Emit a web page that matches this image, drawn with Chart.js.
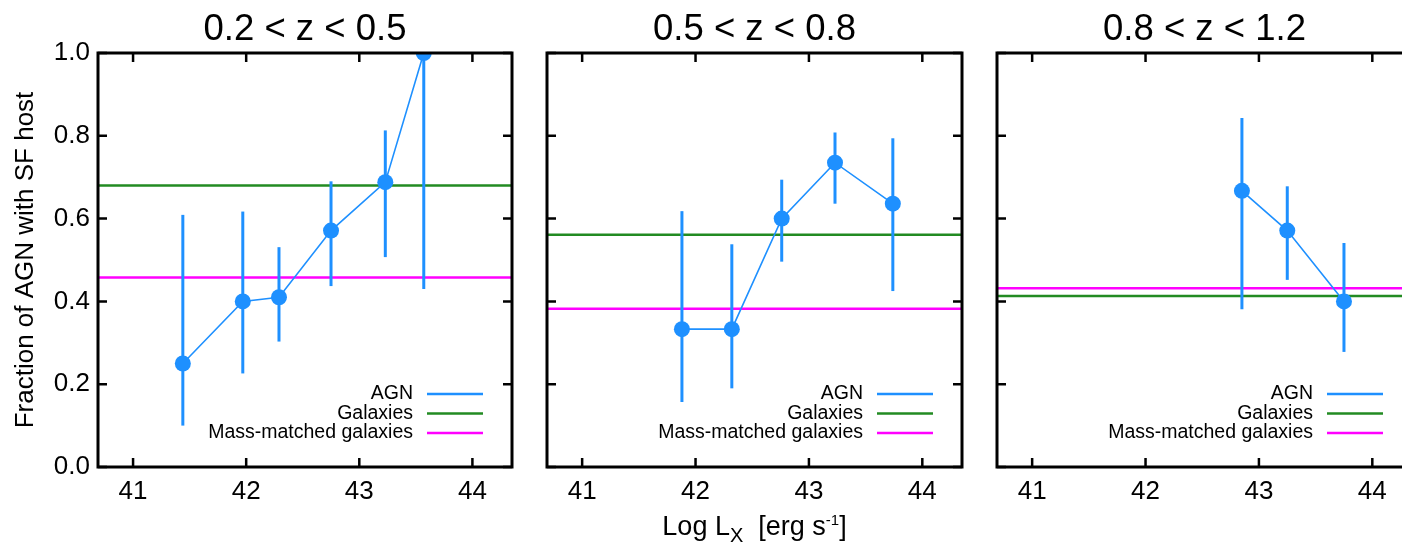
<!DOCTYPE html>
<html>
<head>
<meta charset="utf-8">
<script src="https://cdn.jsdelivr.net/npm/chart.js@4.4.0/dist/chart.umd.min.js"></script>
<style>
    html, body { margin: 0; padding: 0; background: #fff; overflow: hidden; width: 1402px; height: 544px; }
    .panel { position: absolute; top: 0; height: 510px; }
    .ptitle { position: absolute; top: 9px; height: 38px; line-height: 38px; text-align: center;
              font-family: "Liberation Sans", Arial, sans-serif; font-size: 36.5px; color: #000; white-space: nowrap; }
    #xtitle { position: absolute; top: 509px; left: 547px; width: 415px; text-align: center;
              font-family: "Liberation Sans", Arial, sans-serif; font-size: 27px; line-height: 34px; color: #000; white-space: nowrap; }
    #xtitle sub { font-size: 20px; vertical-align: -7px; line-height: 0; }
    #xtitle sup { font-size: 15px; vertical-align: 10px; line-height: 0; }
</style>
</head>
<body>
<div class="panel" style="left:0px;width:520px"><canvas id="panel0"></canvas></div>
<div class="panel" style="left:520px;width:450px"><canvas id="panel1"></canvas></div>
<div class="panel" style="left:970px;width:450px"><canvas id="panel2"></canvas></div>
<div class="ptitle" style="left:98px;width:414px">0.2 &lt; z &lt; 0.5</div>
<div class="ptitle" style="left:547px;width:415px">0.5 &lt; z &lt; 0.8</div>
<div class="ptitle" style="left:997px;width:415px">0.8 &lt; z &lt; 1.2</div>
<div id="xtitle">Log L<sub>X</sub>&nbsp; [erg s<sup>-1</sup>]</div>

<script>
// tick values and series names
var xTicks = [41, 42, 43, 44];
var yTicks = [0.0, 0.2, 0.4, 0.6, 0.8, 1.0];
var xMin = 40.69;
var xMax = 44.35;
var seriesNames = ["AGN", "Galaxies", "Mass-matched galaxies"];
var yTitle = "Fraction of AGN with SF host";

// 0.2 < z < 0.5
var agnX1 = [41.44, 41.97, 42.29, 42.75, 43.23, 43.57];
var agnY1 = [0.25, 0.40, 0.41, 0.571, 0.688, 1.00];
var agnLo1 = [0.10, 0.226, 0.303, 0.437, 0.507, 0.43];
var agnHi1 = [0.609, 0.617, 0.531, 0.69, 0.813, 1.00];
var galaxies1 = 0.68;
var massMatched1 = 0.458;

// 0.5 < z < 0.8
var agnX2 = [41.88, 42.32, 42.76, 43.23, 43.74];
var agnY2 = [0.333, 0.333, 0.60, 0.735, 0.636];
var agnLo2 = [0.157, 0.19, 0.496, 0.636, 0.425];
var agnHi2 = [0.618, 0.538, 0.694, 0.808, 0.794];
var galaxies2 = 0.561;
var massMatched2 = 0.382;

// 0.8 < z < 1.2
var agnX3 = [42.85, 43.25, 43.75];
var agnY3 = [0.667, 0.571, 0.40];
var agnLo3 = [0.381, 0.452, 0.278];
var agnHi3 = [0.843, 0.678, 0.541];
var galaxies3 = 0.413;
var massMatched3 = 0.432;

var agnColor = "rgb(30, 144, 255)";
var galColor = "rgb(34, 139, 34)";
var massColor = "rgb(255, 0, 255)";
var fontFamily = '"Liberation Sans", Arial, sans-serif';

Chart.defaults.font.family = fontFamily;
Chart.defaults.color = "#000";

// error bars, frame with inward ticks, and the in-plot legend
var idlPlugin = {
    id: "idlStyle",
    beforeDatasetDraw: function (chart, args) {
        if (args.index !== 0) return;
        var ds = chart.data.datasets[0];
        var xs = chart.scales.x, ys = chart.scales.y;
        var ctx = chart.ctx;
        ctx.save();
        ctx.strokeStyle = ds.borderColor;
        ctx.lineWidth = 3;
        ds.data.forEach(function (p, i) {
            var px = xs.getPixelForValue(p.x);
            ctx.beginPath();
            ctx.moveTo(px, ys.getPixelForValue(ds.errLo[i]));
            ctx.lineTo(px, ys.getPixelForValue(ds.errHi[i]));
            ctx.stroke();
        });
        ctx.restore();
    },
    afterDraw: function (chart) {
        var ctx = chart.ctx, a = chart.chartArea;
        var xs = chart.scales.x, ys = chart.scales.y;
        var tl = 9;
        ctx.save();
        ctx.strokeStyle = "#000";
        ctx.lineWidth = 2.5;
        xTicks.forEach(function (v) {
            var px = xs.getPixelForValue(v);
            ctx.beginPath();
            ctx.moveTo(px, a.bottom); ctx.lineTo(px, a.bottom - tl);
            ctx.moveTo(px, a.top); ctx.lineTo(px, a.top + tl);
            ctx.stroke();
        });
        yTicks.forEach(function (v) {
            var py = ys.getPixelForValue(v);
            ctx.beginPath();
            ctx.moveTo(a.left, py); ctx.lineTo(a.left + tl, py);
            ctx.moveTo(a.right, py); ctx.lineTo(a.right - tl, py);
            ctx.stroke();
        });
        ctx.lineWidth = 3;
        ctx.strokeRect(a.left, a.top, a.right - a.left, a.bottom - a.top);

        ctx.font = "19.5px " + fontFamily;
        ctx.textAlign = "right";
        ctx.textBaseline = "middle";
        chart.data.datasets.forEach(function (ds, i) {
            var y = a.bottom - 73 + i * 19.5;
            ctx.fillStyle = "#000";
            ctx.fillText(ds.label, a.right - 99, y);
            ctx.strokeStyle = ds.borderColor;
            ctx.lineWidth = 2.5;
            ctx.beginPath();
            ctx.moveTo(a.right - 85, y);
            ctx.lineTo(a.right - 29, y);
            ctx.stroke();
        });
        ctx.restore();
    }
};

function MakePanel(canvasId, xs, ys, lo, hi, gal, mass, yWidth, showY) {
    var agnData = xs.map(function (x, i) { return { x: x, y: ys[i] }; });
    var ctx = document.getElementById(canvasId).getContext("2d");
    new Chart(ctx, {
        type: "line",
        data: {
            datasets: [
                {
                    label: seriesNames[0],
                    data: agnData,
                    errLo: lo,
                    errHi: hi,
                    borderColor: agnColor,
                    backgroundColor: agnColor,
                    borderWidth: 1.6,
                    pointRadius: 8,
                    pointHoverRadius: 8,
                    pointBorderWidth: 0
                },
                {
                    label: seriesNames[1],
                    data: [{ x: xMin, y: gal }, { x: xMax, y: gal }],
                    borderColor: galColor,
                    borderWidth: 2.5,
                    pointRadius: 0
                },
                {
                    label: seriesNames[2],
                    data: [{ x: xMin, y: mass }, { x: xMax, y: mass }],
                    borderColor: massColor,
                    borderWidth: 2.5,
                    pointRadius: 0
                }
            ]
        },
        options: {
            responsive: true,
            maintainAspectRatio: false,
            animation: false,
            events: [],
            layout: { padding: { top: 53, right: 8, left: 0, bottom: 0 } },
            plugins: { legend: { display: false }, tooltip: { enabled: false } },
            scales: {
                x: {
                    type: "linear",
                    min: xMin,
                    max: xMax,
                    offset: false,
                    grid: { display: false, drawTicks: false },
                    border: { display: false },
                    afterBuildTicks: function (s) { s.ticks = xTicks.map(function (v) { return { value: v }; }); },
                    afterFit: function (s) { s.height = 43; },
                    ticks: { font: { size: 26 }, color: "#000", padding: 9, maxRotation: 0,
                             callback: function (v) { return String(v); } }
                },
                y: {
                    type: "linear",
                    min: 0,
                    max: 1,
                    grid: { display: false, drawTicks: false },
                    border: { display: false },
                    afterBuildTicks: function (s) { s.ticks = yTicks.map(function (v) { return { value: v }; }); },
                    afterFit: function (s) { s.width = yWidth; },
                    ticks: { display: showY, font: { size: 26 }, color: "#000", padding: 8,
                             callback: function (v) { return v.toFixed(1); } },
                    title: { display: showY, text: yTitle, font: { size: 26 }, color: "#000",
                             padding: { top: 10, bottom: 0 } }
                }
            }
        },
        plugins: [idlPlugin]
    });
}

MakePanel("panel0", agnX1, agnY1, agnLo1, agnHi1, galaxies1, massMatched1, 98, true);
MakePanel("panel1", agnX2, agnY2, agnLo2, agnHi2, galaxies2, massMatched2, 27, false);
MakePanel("panel2", agnX3, agnY3, agnLo3, agnHi3, galaxies3, massMatched3, 27, false);
</script>
</body>
</html>
